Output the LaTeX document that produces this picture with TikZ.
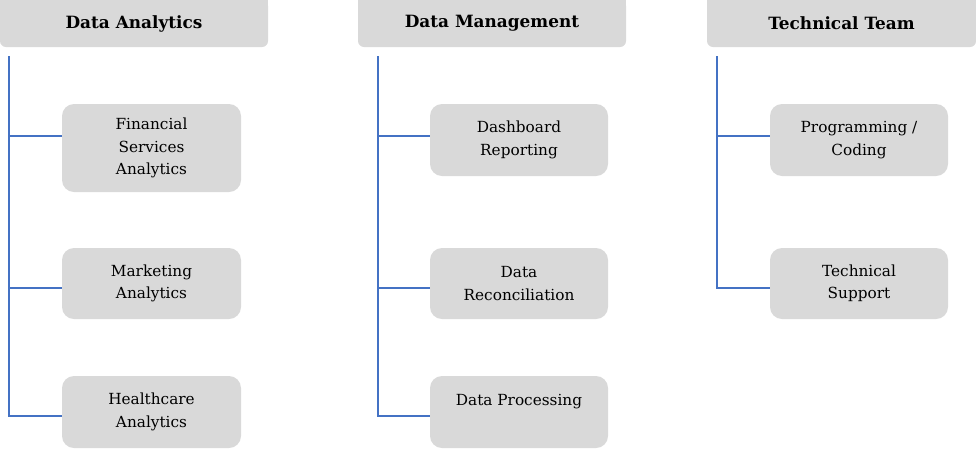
\documentclass[tikz,border=0pt]{standalone}
\usepackage{fontspec}
\setmainfont{DejaVu Serif}
\definecolor{boxgray}{HTML}{D9D9D9}
\definecolor{linkblue}{HTML}{4472C4}
\begin{document}
\begin{tikzpicture}[x=1pt,y=1pt,
  header/.style={fill=boxgray, draw=none, rounded corners=6pt, minimum height=47pt, inner sep=0pt,
     font=\fontsize{16.9}{20}\selectfont\bfseries, text=black},
  child/.style={fill=boxgray, draw=none, rounded corners=12pt, minimum width=178pt, inner sep=0pt,
     align=center, font=\fontsize{15.3}{22.5}\selectfont, text=black},
  conn/.style={draw=linkblue, line width=1.5pt}]
\useasboundingbox (0,0) rectangle (976,-448);
% headers (top edge continues past the page)
\fill[boxgray] (0,0) rectangle (268,-20);
\fill[boxgray] (358,0) rectangle (626,-20);
\fill[boxgray] (707,0) rectangle (976,-20);
\node[header, minimum width=268pt] (h1) at (134,-23.5) {Data Analytics};
\node[header, minimum width=268pt] (h2) at (492,-23.5) {Data Management};
\node[header, minimum width=269pt] (h3) at (841.5,-23.5) {Technical Team};
% column 1
\node[child, minimum width=179pt, minimum height=88pt] (fs) at (151.5,-148) {Financial\\Services\\Analytics};
\node[child, minimum width=179pt, minimum height=71pt] (mk) at (151.5,-283.5) {Marketing\\Analytics};
\node[child, minimum width=179pt, minimum height=72pt] (hc) at (151.5,-412) {Healthcare\\Analytics};
% column 2
\node[child, minimum height=72pt] (db) at (519,-140) {Dashboard\\Reporting};
\node[child, minimum height=71pt] (dr) at (519,-283.5) {Data\\Reconciliation};
\node[child, minimum height=72pt, text depth=27pt, text height=14pt] (dp) at (519,-412) {Data Processing};
% column 3
\node[child, minimum height=72pt] (pc) at (859,-140) {Programming /\\Coding};
\node[child, minimum height=71pt] (ts) at (859,-283.5) {Technical\\Support};
% connector anchors
\coordinate (t1) at (9,-56);
\coordinate (t2) at (378,-56);
\coordinate (t3) at (717,-56);
\coordinate (j1a) at (fs.west |- 0,-136);
\coordinate (j1b) at (mk.west |- 0,-288);
\coordinate (j1c) at (hc.west |- 0,-416);
\coordinate (j2a) at (db.west |- 0,-136);
\coordinate (j2b) at (dr.west |- 0,-288);
\coordinate (j2c) at (dp.west |- 0,-416);
\coordinate (j3a) at (pc.west |- 0,-136);
\coordinate (j3b) at (ts.west |- 0,-288);
% connectors
\draw[conn] (t1) -- (t1 |- j1c) -- (j1c);
\draw[conn] (t1 |- j1a) -- (j1a);
\draw[conn] (t1 |- j1b) -- (j1b);
\draw[conn] (t2) -- (t2 |- j2c) -- (j2c);
\draw[conn] (t2 |- j2a) -- (j2a);
\draw[conn] (t2 |- j2b) -- (j2b);
\draw[conn] (t3) -- (t3 |- j3b) -- (j3b);
\draw[conn] (t3 |- j3a) -- (j3a);
\end{tikzpicture}
\end{document}
